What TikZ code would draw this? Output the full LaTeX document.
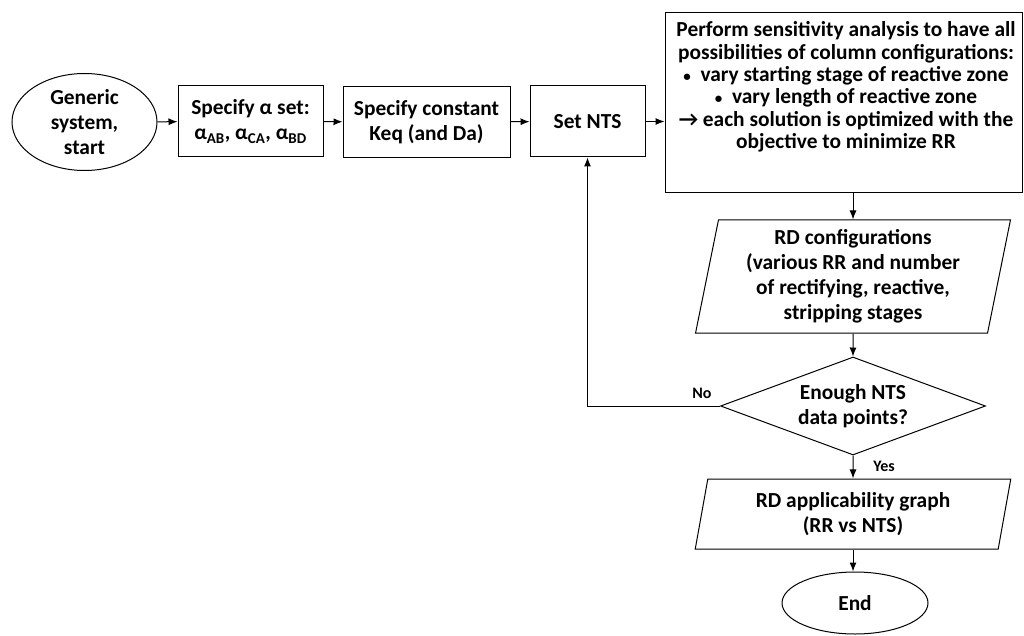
\documentclass[tikz,border=0pt]{standalone}
\usepackage{fontspec}
\setmainfont{Carlito}
\usetikzlibrary{shapes.geometric, arrows.meta}

\begin{document}
\begin{tikzpicture}[x=1pt, y=-1pt, line width=1pt,
    every node/.style={font=\fontsize{21.4}{25}\selectfont\bfseries, align=center, inner sep=0pt},
    termnode/.style={draw, ellipse},
    procbox/.style={draw, rectangle, minimum height=71},
    iobox/.style={draw, trapezium, trapezium left angle=79, trapezium right angle=101,
                  trapezium stretches=true, minimum width=316},
    decnode/.style={draw, diamond, aspect=2.7, minimum width=265, minimum height=98},
    smalllabel/.style={font=\fontsize{16}{18}\selectfont\bfseries},
    arr/.style={-{Latex[length=9pt,width=7pt]}}]
    \useasboundingbox (0,0) rectangle (1024,636);

    % top row
    \node[termnode, minimum width=145, minimum height=97] (start) at (84.5,122)
          {Generic\\system,\\start};
    \node[procbox, minimum width=145] (alpha) at (250.5,121.5)
          {Specify α set:\\α\textsubscript{AB}, α\textsubscript{CA}, α\textsubscript{BD}};
    \node[procbox, minimum width=167] (keq) at (426.5,122)
          {Specify constant\\Keq (and Da)};
    \node[procbox, minimum width=115] (nts) at (587.5,121.5) {Set NTS};
    \node[draw, minimum width=357, minimum height=180] (sens) at (843.5,103) {};
    \node[font=\fontsize{21.4}{22.4}\selectfont\bfseries] (senstext) at (846,87)
          {Perform sensitivity analysis to have all\\
           possibilities of column configurations:\\
           {\fontsize{15}{15}\selectfont •}\ \ vary starting stage of reactive zone\\
           {\fontsize{15}{15}\selectfont •}\ \ vary length of reactive zone\\
           → each solution is optimized with the\\
           objective to minimize RR};

    % right column
    \node[iobox, minimum height=113] (rdconf) at (853,276.5)
          {RD configurations\\(various RR and number\\of rectifying, reactive,\\stripping stages};
    \node[decnode] (enough) at (853,406) {Enough NTS\\data points?};
    \node[iobox, minimum height=70] (appl) at (853,514)
          {RD applicability graph\\(RR vs NTS)};
    \node[termnode, minimum width=146, minimum height=62] (end) at (855,603) {End};

    \node[smalllabel] (nolab) at (702,393) {No};
    \node[smalllabel] (yeslab) at (884,466) {Yes};

    \draw[arr] (start) -- (alpha);
    \draw[arr] (alpha) -- (keq);
    \draw[arr] (keq) -- (nts);
    \draw[arr] (nts) -- (sens.west |- nts);
    \draw[arr] (sens.south -| rdconf.north) -- (rdconf.north);
    \draw[arr] (rdconf.south) -- (enough.north);
    \draw[arr] (enough.south) -- (appl.north);
    \draw[arr] (appl.south) -- (end.north -| appl.south);
    \draw[arr] (enough.west) -- (enough.west -| nts.south) -- (nts.south);
\end{tikzpicture}
\end{document}
